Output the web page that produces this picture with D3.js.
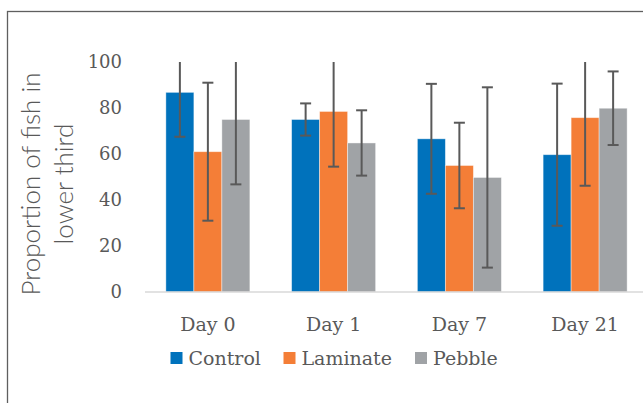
<!DOCTYPE html>
<html><head><meta charset="utf-8">
<script src="https://cdn.jsdelivr.net/npm/d3@7"></script>
<style>body{margin:0;background:#fff}svg{display:block}</style>
</head><body>
<svg id="c" width="643" height="403"></svg>
<script>
const categories = ["Day 0", "Day 1", "Day 7", "Day 21"];
const seriesNames = ["Control", "Laminate", "Pebble"];
const control = [86.8, 75.0, 66.6, 59.7];
const laminate = [61.0, 78.5, 55.0, 75.8];
const pebble = [75.0, 64.8, 49.8, 79.9];
const controlErr = [19.3, 7.0, 23.9, 30.9];
const laminateErr = [30.0, 24.0, 18.6, 29.6];
const pebbleErr = [28.2, 14.2, 39.2, 16.0];
const yTicks = [0, 20, 40, 60, 80, 100];
const colors = ["#0072BC", "#F47E37", "#A0A3A6"];

const values = [control, laminate, pebble];
const errs = [controlErr, laminateErr, pebbleErr];
const svg = d3.select("#c");
const txt = "#595959";
const serif = "'DejaVu Serif', serif";

// frame
svg.append("rect").attr("x", 7.5).attr("y", 11.5).attr("width", 700).attr("height", 500)
  .attr("fill", "none").attr("stroke", "#5f5f5f").attr("stroke-width", 1.3);

const p = 0.332;
const x = d3.scaleBand().domain(categories).range([145, 648]).paddingInner(p).paddingOuter(p / 2);
const xs = d3.scaleBand().domain(seriesNames).range([0, x.bandwidth()]);
const y = d3.scaleLinear().domain([0, 100]).range([292, 62]);

// y tick labels
svg.append("g").selectAll("text").data(yTicks).join("text")
  .attr("x", 122).attr("y", d => y(d)).attr("dy", "0.35em")
  .attr("text-anchor", "end").attr("font-family", serif).attr("font-size", 18)
  .attr("fill", txt).text(d => d);

// bars
const flat = [];
seriesNames.forEach((s, si) => categories.forEach((c, ci) => flat.push({s, si, c, v: values[si][ci], e: errs[si][ci]})));
svg.append("g").selectAll("rect").data(flat).join("rect")
  .attr("x", d => x(d.c) + xs(d.s)).attr("width", xs.bandwidth())
  .attr("y", d => y(d.v)).attr("height", d => y(0) - y(d.v))
  .attr("fill", d => colors[d.si]).attr("stroke", "#ffffff").attr("stroke-opacity", 0.5).attr("stroke-width", 0.8);

// baseline
svg.append("line").attr("x1", 145).attr("x2", 648).attr("y1", y(0)).attr("y2", y(0))
  .attr("stroke", "#D9D9D9").attr("stroke-width", 1.5);

// error bars
const eg = svg.append("g").attr("stroke", "#595959").attr("stroke-width", 2);
flat.forEach(d => {
  const cx = x(d.c) + xs(d.s) + xs.bandwidth() / 2;
  const hi = d.v + d.e, lo = d.v - d.e;
  const hiC = Math.min(hi, 100), loC = Math.max(lo, 0);
  eg.append("line").attr("x1", cx).attr("x2", cx).attr("y1", y(hiC)).attr("y2", y(loC));
  if (hi <= 100) eg.append("line").attr("x1", cx - 5.5).attr("x2", cx + 5.5).attr("y1", y(hi)).attr("y2", y(hi));
  if (lo >= 0) eg.append("line").attr("x1", cx - 5.5).attr("x2", cx + 5.5).attr("y1", y(lo)).attr("y2", y(lo));
});

// category labels
svg.append("g").selectAll("text").data(categories).join("text")
  .attr("x", d => x(d) + x.bandwidth() / 2).attr("y", 331)
  .attr("text-anchor", "middle").attr("font-family", serif).attr("font-size", 19)
  .attr("fill", txt).text(d => d);

// y title
const t = svg.append("text").attr("transform", "translate(40,184) rotate(-90)")
  .attr("text-anchor", "middle").attr("font-family", "Lato, 'Open Sans', sans-serif")
  .attr("font-weight", 300).attr("font-size", 26).attr("fill", txt);
t.append("tspan").attr("x", 0).attr("y", 0).text("Proportion of fish in");
t.append("tspan").attr("x", 0).attr("y", 33).text("lower third");

// legend
const legX = [170.5, 283.5, 415];
const lg = svg.append("g").selectAll("g").data(seriesNames).join("g")
  .attr("transform", (d, i) => `translate(${legX[i]},352)`);
lg.append("rect").attr("width", 12).attr("height", 12).attr("fill", (d, i) => colors[i]);
lg.append("text").attr("x", 18).attr("y", 12.5).attr("font-family", serif).attr("font-size", 19)
  .attr("fill", txt).text(d => d);
</script>
</body></html>
